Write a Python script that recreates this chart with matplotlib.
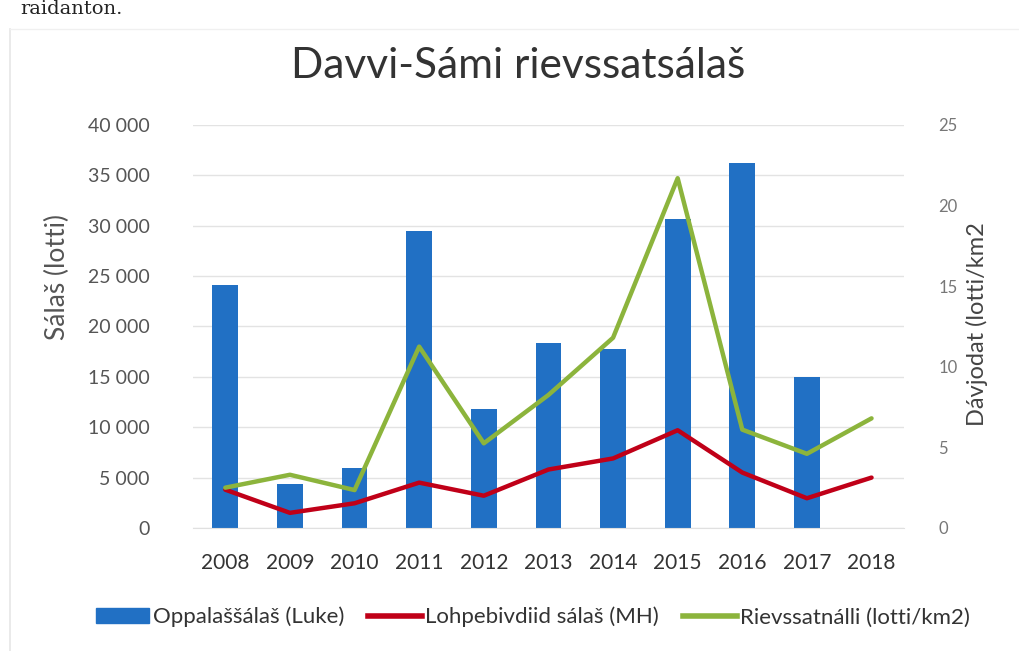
import numpy as np
import matplotlib
matplotlib.use("Agg")
import matplotlib.pyplot as plt
from matplotlib.ticker import FuncFormatter
from matplotlib.patches import Patch
from matplotlib.lines import Line2D

plt.rcParams['font.family'] = ['Lato', 'DejaVu Sans']

#Data
years = ['2008', '2009', '2010', '2011', '2012', '2013', '2014', '2015', '2016', '2017', '2018']
oppalas = [24100, 4400, 6000, 29500, 11800, 18400, 17800, 30700, 36200, 15000, 0]
lohpebivdiid = [3800, 1500, 2450, 4500, 3200, 5800, 6900, 9700, 5500, 2950, 5000]
rievssatnalli = [2.5, 3.3, 2.35, 11.25, 5.25, 8.25, 11.8, 21.7, 6.1, 4.6, 6.8]

left_ticks = [0, 5000, 10000, 15000, 20000, 25000, 30000, 35000, 40000]
right_ticks = [0, 5, 10, 15, 20, 25]

blue = '#2170c4'
red = '#c00018'
green = '#8cb43c'

fig = plt.figure(figsize=(10.19, 6.51), dpi=100)
ax = fig.add_axes([0.1894, 0.189, 0.6976, 0.619])
ax2 = ax.twinx()

x = np.arange(len(years))
ax.bar(x, oppalas, width=0.4, color=blue, zorder=2)
ax.plot(x, lohpebivdiid, color=red, lw=3.2, zorder=3, solid_capstyle='round')
ax2.plot(x, rievssatnalli, color=green, lw=3.2, zorder=3, solid_capstyle='round')

ax.set_xlim(-0.5, len(years) - 0.5)
ax.set_ylim(0, 40000)
ax2.set_ylim(0, 25)
ax.set_yticks(left_ticks)
ax2.set_yticks(right_ticks)
ax.yaxis.set_major_formatter(FuncFormatter(lambda v, p: f"{int(v):,}".replace(",", " ")))
ax.set_xticks(x)
ax.set_xticklabels(years)

ax.grid(axis='y', color='#e3e3e3', lw=1.0, zorder=0)
ax.set_axisbelow(True)
for a in (ax, ax2):
    for s in a.spines.values():
        s.set_visible(False)
    a.tick_params(length=0)
ax.spines['bottom'].set_visible(True)
ax.spines['bottom'].set_color('#e0e0e0')

ax.tick_params(axis='y', labelsize=14, labelcolor='#555555', pad=31)
ax.tick_params(axis='x', labelsize=15, labelcolor='#333333', pad=18)
ax2.tick_params(axis='y', labelsize=12, labelcolor='#777777', pad=25)
ax2.set_zorder(ax.get_zorder() + 1)
ax2.patch.set_visible(False)

# titles / labels
fig.text(0.508, 0.898, 'Davvi-Sámi rievssatsálaš', ha='center', va='center', fontsize=30.5, color='#333333')
fig.text(0.056, 0.574, 'Sálaš (lotti)', rotation=90, ha='center', va='center', fontsize=19, color='#555555')
fig.text(0.959, 0.502, 'Dávjodat (lotti/km2', rotation=90, ha='center', va='center', fontsize=17, color='#444444')
fig.text(0.02, 1.0, 'raidanton.', ha='left', va='top', fontsize=14, family='DejaVu Serif', color='#222222')

handles = [Patch(color=blue),
           Line2D([0], [0], color=red, lw=4),
           Line2D([0], [0], color=green, lw=4)]
labels = ['Oppalaššálaš (Luke)', 'Lohpebivdiid sálaš (MH)', 'Rievssatnálli (lotti/km2)']
fig.legend(handles, labels, loc='center', bbox_to_anchor=(0.523, 0.052), ncol=3, frameon=False,
           fontsize=16, handlelength=2.4, handletextpad=0.15, columnspacing=1.1, labelcolor='#333333')

# chart frame
fig.add_artist(Line2D([0.01, 0.01], [0.0, 0.955], color='#e6e6e6', lw=1.2, transform=fig.transFigure))
fig.add_artist(Line2D([0.01, 1.0], [0.955, 0.955], color='#f0f0f0', lw=1.0, transform=fig.transFigure))

plt.savefig('out.png', dpi=100)
